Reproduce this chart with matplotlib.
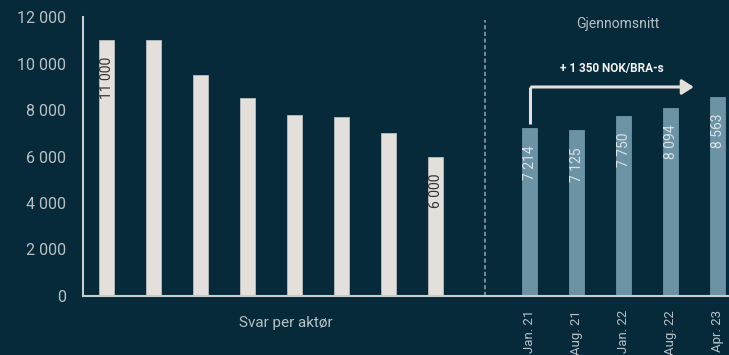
import matplotlib.pyplot as plt
from matplotlib.patches import FancyArrowPatch

# survey answers per actor (NOK/BRA-s)
actor_values = [11000, 11000, 9500, 8500, 7800, 7700, 7000, 6000]
actor_labels = {0: "11 000", 7: "6 000"}

# average over time
avg_periods = ["Jan. 21", "Aug. 21", "Jan. 22", "Aug. 22", "Apr. 23"]
avg_values = [7214, 7125, 7750, 8094, 8563]
avg_labels = ["7 214", "7 125", "7 750", "8 094", "8 563"]
increase_text = "+ 1 350 NOK/BRA-s"

bg = "#062a3a"
light = "#e3e0db"
blue = "#6c93a5"
text_col = "#b6c0c5"

plt.rcParams["font.family"] = ["Roboto", "DejaVu Sans"]

fig = plt.figure(figsize=(7.29, 3.55), dpi=100, facecolor=bg)
ax = fig.add_axes([0.1139, 0.1662, 0.8861, 0.7859])
ax.set_facecolor(bg)

x_left = list(range(len(actor_values)))
x_right = [9 + i for i in range(len(avg_values))]
w = 0.31

ax.bar(x_left, actor_values, width=w, color=light, edgecolor="#b9bdbd", linewidth=0.6, zorder=2)
ax.bar(x_right, avg_values, width=w, color=blue, edgecolor=blue, linewidth=0.6, zorder=2)

for i, lab in actor_labels.items():
    ax.annotate(lab, (x_left[i], actor_values[i]), xytext=(0, -12), textcoords="offset points",
                rotation=90, ha="center", va="top", fontsize=10, color="#333333")
for xi, v, lab in zip(x_right, avg_values, avg_labels):
    ax.annotate(lab, (xi, v), xytext=(0, -12), textcoords="offset points",
                rotation=90, ha="center", va="top", fontsize=10, color="#d8e1e6")

# separator between the two groups
ax.plot([8.05, 8.05], [0, 11850], linestyle=(0, (2.5, 1.5)), color="#8a9ca6", linewidth=1.2, zorder=1)

# increase arrow
ax.plot([x_right[0], x_right[0]], [7380, 8990], color=light, linewidth=2.2, solid_capstyle="butt", zorder=3)
arrow = FancyArrowPatch((x_right[0] - 0.02, 8990), (12.55, 8990),
                        arrowstyle="-|>,head_length=7,head_width=4.5",
                        color=light, linewidth=2.2, zorder=3)
ax.add_patch(arrow)
ax.text(10.75, 9800, increase_text, ha="center", va="center", fontsize=8.5,
        fontweight="bold", color="#f0f0f0")
ax.text(10.87, 11700, "Gjennomsnitt", ha="center", va="center", fontsize=10,
        color=text_col)

ax.set_xlim(-0.5, 13.24)
ax.set_ylim(0, 12000)
ax.set_yticks(range(0, 12001, 2000))
ax.set_yticklabels([f"{v:,}".replace(",", " ") for v in range(0, 12001, 2000)],
                   fontsize=11.5, color=text_col)
ax.tick_params(axis="y", length=0, pad=12)

ax.set_xticks(x_right)
ax.set_xticklabels(avg_periods, rotation=90, fontsize=9.5, color=text_col, va="top")
ax.tick_params(axis="x", length=0, pad=10)

ax.text(3.82, -1150, "Svar per aktør", ha="center", va="center", fontsize=11,
        color=text_col)

for s in ["top", "right"]:
    ax.spines[s].set_visible(False)
for s in ["left", "bottom"]:
    ax.spines[s].set_color("#c9cccd")
    ax.spines[s].set_linewidth(1.5)

fig.savefig("out.png", dpi=100, facecolor=bg)
